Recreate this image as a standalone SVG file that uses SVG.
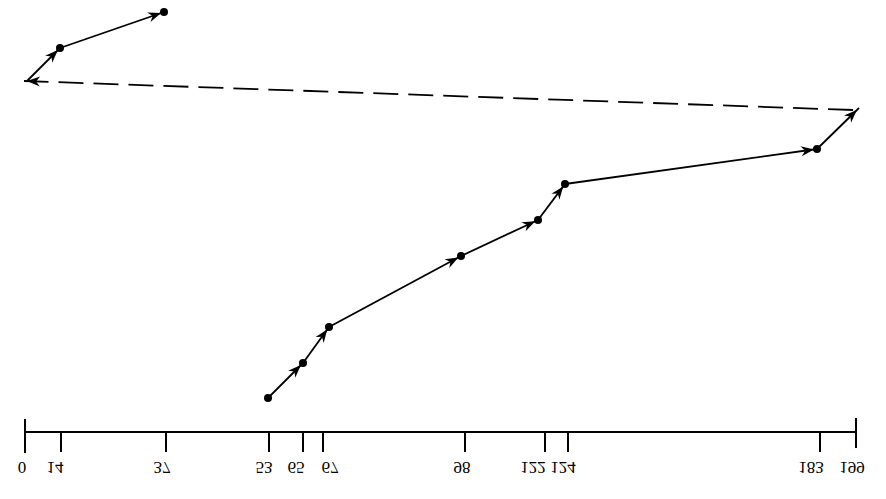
<svg xmlns="http://www.w3.org/2000/svg" width="886" height="499" viewBox="0 0 886 499">
<style>
.seg{stroke:#000;stroke-width:1.8;fill:none;marker-end:url(#ah)}
.dash{stroke:#000;stroke-width:1.8;fill:none;stroke-dasharray:25 10;marker-end:url(#ah)}
.dot{fill:#000}
.ax{stroke:#000;stroke-width:2;fill:none}
.lbl{font-family:"Liberation Serif",serif;font-size:17px;fill:#000;text-anchor:middle}
</style>
<defs>
<marker id="ah" markerUnits="userSpaceOnUse" orient="auto" refX="3" refY="0" overflow="visible" markerWidth="16" markerHeight="12">
<path d="M0,0 L-13,-5 L-9,0 L-13,5 Z" fill="#000"/>
</marker>
</defs>
<g id="connectors">
<line class="seg" x1="268" y1="398" x2="303" y2="363"/>
<line class="seg" x1="303" y1="363" x2="329" y2="327"/>
<line class="seg" x1="329" y1="327" x2="461" y2="256"/>
<line class="seg" x1="461" y1="256" x2="538" y2="220"/>
<line class="seg" x1="538" y1="220" x2="565" y2="184"/>
<line class="seg" x1="565" y1="184" x2="817" y2="149"/>
<line class="seg" x1="817" y1="149" x2="859" y2="108"/>
<line class="dash" x1="853" y1="110" x2="24" y2="81"/>
<line class="seg" x1="27" y1="81" x2="60" y2="48"/>
<line class="seg" x1="60" y1="48" x2="164" y2="12"/>
</g>
<g id="n53"><circle class="dot" cx="268" cy="398" r="4"/></g>
<g id="n65"><circle class="dot" cx="303" cy="363" r="4"/></g>
<g id="n67"><circle class="dot" cx="329" cy="327" r="4"/></g>
<g id="n98"><circle class="dot" cx="461" cy="256" r="4"/></g>
<g id="n122"><circle class="dot" cx="538" cy="220" r="4"/></g>
<g id="n124"><circle class="dot" cx="565" cy="184" r="4"/></g>
<g id="n183"><circle class="dot" cx="817" cy="149" r="4"/></g>
<g id="n14"><circle class="dot" cx="60" cy="48" r="4"/></g>
<g id="n37"><circle class="dot" cx="164" cy="12" r="4"/></g>
<g id="axis">
<line class="ax" x1="25" y1="432" x2="856" y2="432"/>
<line class="ax" x1="25" y1="419" x2="25" y2="453"/>
<line class="ax" x1="856" y1="418" x2="856" y2="448"/>
<path class="ax" d="M61,432V452M166,432V452M269,432V452M303,432V452M323,432V452M465,432V452M545,432V452M568,432V452M820,432V452"/>
</g>
<g id="labels" transform="scale(1,-1)">
<text class="lbl" x="22" y="-462">0</text>
<text class="lbl" x="55" y="-462">14</text>
<text class="lbl" x="162" y="-462">37</text>
<text class="lbl" x="264" y="-462">53</text>
<text class="lbl" x="296" y="-462">65</text>
<text class="lbl" x="330" y="-462">67</text>
<text class="lbl" x="462" y="-462">98</text>
<text class="lbl" x="533" y="-462">122</text>
<text class="lbl" x="563" y="-462">124</text>
<text class="lbl" x="811" y="-462">183</text>
<text class="lbl" x="852" y="-462">199</text>
</g>
</svg>
